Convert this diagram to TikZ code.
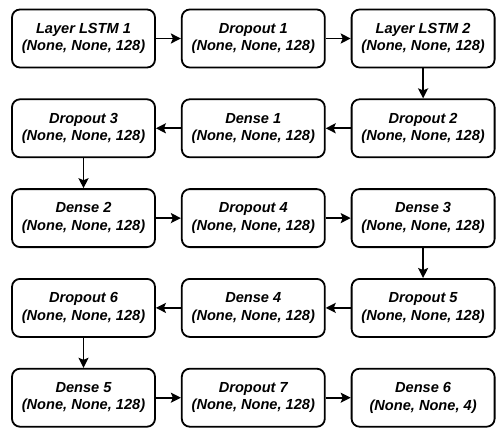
\documentclass[tikz,border=0pt]{standalone}
\usepackage{fontspec}
\setmainfont{Liberation Sans}
\usepackage{tikz}
\usetikzlibrary{positioning,arrows.meta}

\begin{document}
\begin{tikzpicture}[x=1pt,y=-1pt]
			\tikzset{layer/.style={draw,line width=1.8pt,rounded corners=8pt,align=center,minimum width=143pt,minimum height=58pt,font=\fontsize{14.6}{17.5}\selectfont\bfseries\itshape,inner sep=2pt}}
			\tikzset{flow/.style={-{Stealth[length=10pt,width=10pt,inset=2pt]},line width=1.7pt}}
			\tikzset{node distance=30pt and 25pt}
			\useasboundingbox (0,0) rectangle (496,428);
			\node[layer] (l1) at (83.5,38.5) {Layer LSTM 1\\(None, None, 128)};
			\node[layer,right=of l1] (dp1) {Dropout 1\\(None, None, 128)};
			\node[layer,right=of dp1] (l2) {Layer LSTM 2\\(None, None, 128)};
			\node[layer,below=of l2] (dp2) {Dropout 2\\(None, None, 128)};
			\node[layer,left=of dp2] (ds1) {Dense 1\\(None, None, 128)};
			\node[layer,left=of ds1] (dp3) {Dropout 3\\(None, None, 128)};
			\node[layer,below=of dp3] (ds2) {Dense 2\\(None, None, 128)};
			\node[layer,right=of ds2] (dp4) {Dropout 4\\(None, None, 128)};
			\node[layer,right=of dp4] (ds3) {Dense 3\\(None, None, 128)};
			\node[layer,below=of ds3] (dp5) {Dropout 5\\(None, None, 128)};
			\node[layer,left=of dp5] (ds4) {Dense 4\\(None, None, 128)};
			\node[layer,left=of ds4] (dp6) {Dropout 6\\(None, None, 128)};
			\node[layer,below=of dp6] (ds5) {Dense 5\\(None, None, 128)};
			\node[layer,right=of ds5] (dp7) {Dropout 7\\(None, None, 128)};
			\node[layer,right=of dp7] (ds6) {Dense 6\\(None, None, 4)};
			\foreach \a/\b in {l1/dp1,dp1/l2,l2/dp2,dp2/ds1,ds1/dp3,dp3/ds2,ds2/dp4,dp4/ds3,ds3/dp5,dp5/ds4,ds4/dp6,dp6/ds5,ds5/dp7,dp7/ds6}
				\draw[flow] (\a) -- (\b);
		\end{tikzpicture}
\end{document}
